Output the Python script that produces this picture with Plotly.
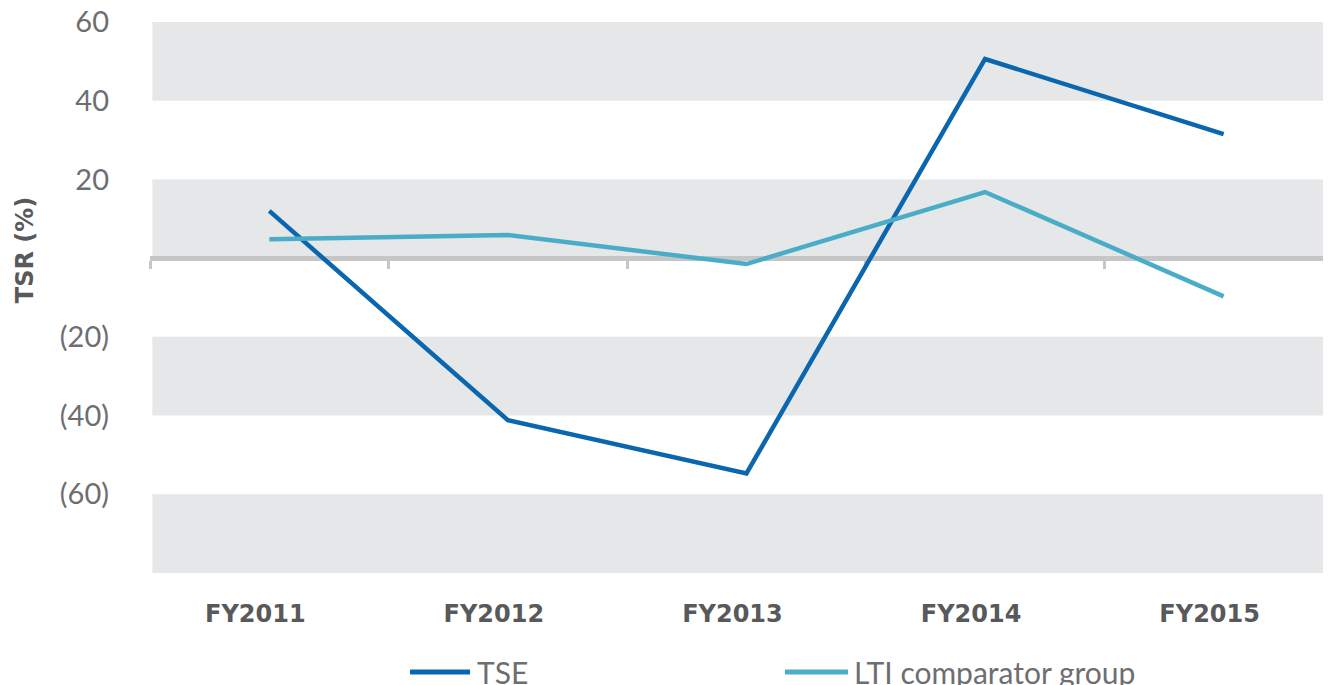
import plotly.graph_objects as go

years = ["FY2011", "FY2012", "FY2013", "FY2014", "FY2015"]
tse = [12.0, -41.2, -54.7, 50.6, 31.5]
lti = [4.8, 5.9, -1.5, 16.8, -9.7]

series_names = ["TSE", "LTI comparator group"]
series_colors = ["#0a66ae", "#4aadc7"]

ytick_vals = [60, 40, 20, -20, -40, -60]
ytick_text = ["60", "40", "20", "(20)", "(40)", "(60)"]
bands = [(40, 60), (0, 20), (-40, -20), (-80, -60)]

xpos = list(range(len(years)))
bounds = [i - 0.5 for i in range(len(years))]

fig = go.Figure()
for name, vals, col in zip(series_names, [tse, lti], series_colors):
    fig.add_trace(go.Scatter(x=xpos, y=vals, mode="lines", name=name,
                             line=dict(color=col, width=4.5), showlegend=False))
# invisible trace for the zero axis overlay
fig.add_trace(go.Scatter(x=[xpos[0]], y=[0], xaxis="x2", mode="markers",
                         marker=dict(opacity=0), showlegend=False, hoverinfo="skip"))

for lo, hi in bands:
    fig.add_shape(type="rect", xref="paper", yref="y", x0=0.002, x1=1, y0=lo, y1=hi,
                  fillcolor="#e6e7e8", line_width=0, layer="below")

# manual legend (swatches + labels)
legend_items = [(0.2202, 0.2710, 0.2752), (0.5377, 0.5910, 0.5944)]
ly = -0.1797
for (x0, x1, xt), name, col in zip(legend_items, series_names, series_colors):
    fig.add_shape(type="line", xref="paper", yref="paper", x0=x0, x1=x1, y0=ly, y1=ly,
                  line=dict(color=col, width=5))
    fig.add_annotation(xref="paper", yref="paper", x=xt, y=ly, text=name, showarrow=False,
                       xanchor="left", yanchor="middle",
                       font=dict(family="Lato", size=30, color="#6d6e71"))

fig.add_annotation(xref="paper", yref="paper", x=-0.1058, y=0.586, text="TSR (%)",
                   textangle=-90, showarrow=False, xanchor="center", yanchor="middle",
                   font=dict(family="DejaVu Sans", size=24, color="#58595b", weight="bold"))

xr = [-0.5, 4.45]
yr = [-80, 60]
zero_pos = (0 - yr[0]) / (yr[1] - yr[0])

fig.update_layout(
    width=1323, height=677,
    margin=dict(l=142, r=0, t=14, b=112),
    plot_bgcolor="white", paper_bgcolor="white",
    font=dict(family="Lato", color="#6d6e71"),
    xaxis=dict(range=xr, tickvals=xpos, ticktext=years, showgrid=False, zeroline=False,
               showline=False, ticks="", ticklabelstandoff=24, ticklabelshift=-14,
               automargin=False,
               tickfont=dict(family="DejaVu Sans", size=24, color="#58595b", weight="bold")),
    xaxis2=dict(range=xr, overlaying="x", anchor="free", position=zero_pos, side="bottom",
                showline=True, linecolor="#c6c6c6", linewidth=5, ticks="outside",
                tickvals=bounds, ticklen=8, tickwidth=3, tickcolor="#c6c6c6",
                showticklabels=False, showgrid=False, zeroline=False, layer="below traces",
                automargin=False),
    yaxis=dict(range=yr, tickvals=ytick_vals, ticktext=ytick_text, showgrid=False,
               zeroline=False, showline=False, ticks="", ticklabelstandoff=40,
               automargin=False, ticklabeloverflow="allow",
               tickfont=dict(family="Lato", size=29, color="#6d6e71")),
    showlegend=False,
)

fig.write_html("out.html")
